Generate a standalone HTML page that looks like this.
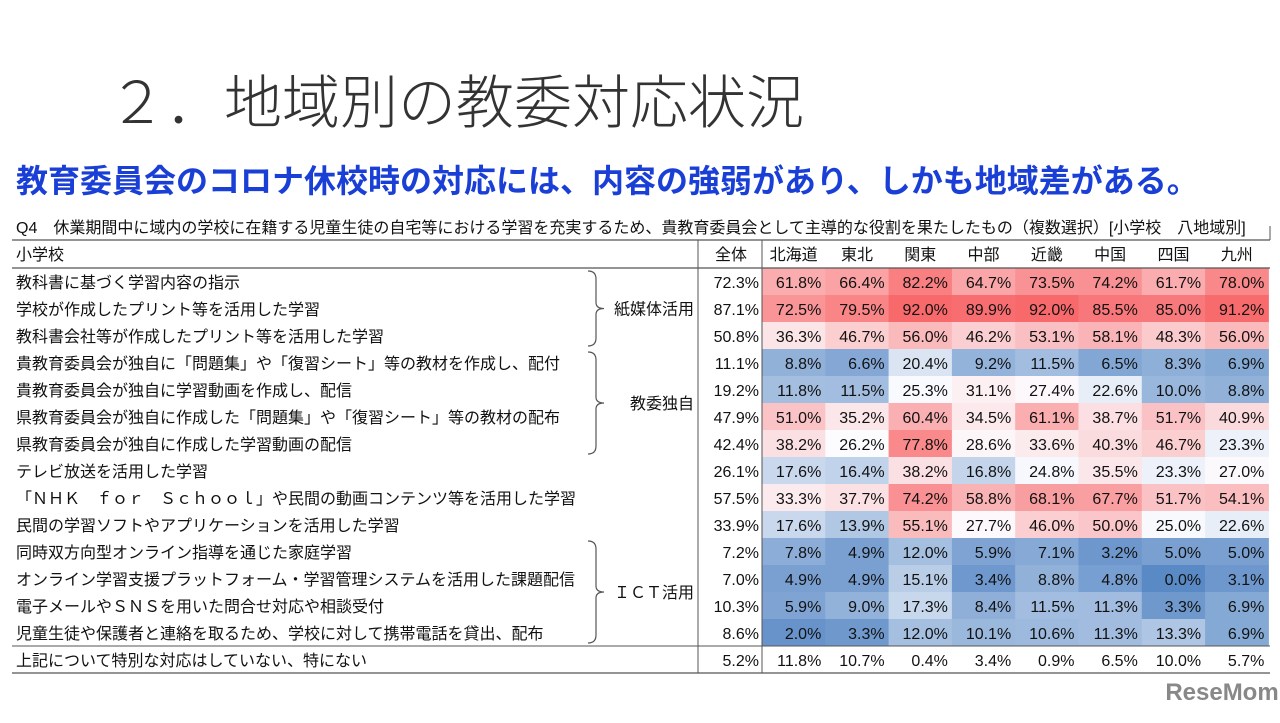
<!DOCTYPE html>
<html><head><meta charset="utf-8">
<style>
body{margin:0;background:#fff;width:1280px;height:718px;overflow:hidden;font-family:"Liberation Sans","Noto Sans CJK JP",sans-serif;}
svg text{font-family:"Liberation Sans","Noto Sans CJK JP",sans-serif;}
</style></head>
<body>
<svg id="s" width="1280" height="718" xmlns="http://www.w3.org/2000/svg">
<text x="108" y="123" font-size="58" fill="#333" style="font-family:'Noto Sans CJK JP',sans-serif;font-weight:300">２．地域別の教委対応状況</text>
<text x="16" y="192" font-size="32" font-weight="bold" fill="#1a3fd6">教育委員会のコロナ休校時の対応には、内容の強弱があり、しかも地域差がある。</text>
<text x="16" y="233" font-size="16" fill="#111">Q4　休業期間中に域内の学校に在籍する児童生徒の自宅等における学習を充実するため、貴教育委員会として主導的な役割を果たしたもの（複数選択）[小学校　八地域別]</text>
<g id="tbl"></g>
<text x="1222" y="700" font-size="24" font-weight="bold" fill="#888" text-anchor="middle">ReseMom</text>
</svg>
<script>
const regions=["北海道","東北","関東","中部","近畿","中国","四国","九州"];
const items=["教科書に基づく学習内容の指示","学校が作成したプリント等を活用した学習","教科書会社等が作成したプリント等を活用した学習","貴教育委員会が独自に「問題集」や「復習シート」等の教材を作成し、配付","貴教育委員会が独自に学習動画を作成し、配信","県教育委員会が独自に作成した「問題集」や「復習シート」等の教材の配布","県教育委員会が独自に作成した学習動画の配信","テレビ放送を活用した学習","「ＮＨＫ　ｆｏｒ　Ｓｃｈｏｏｌ」や民間の動画コンテンツ等を活用した学習","民間の学習ソフトやアプリケーションを活用した学習","同時双方向型オンライン指導を通じた家庭学習","オンライン学習支援プラットフォーム・学習管理システムを活用した課題配信","電子メールやＳＮＳを用いた問合せ対応や相談受付","児童生徒や保護者と連絡を取るため、学校に対して携帯電話を貸出、配布"];
const totals=[72.3,87.1,50.8,11.1,19.2,47.9,42.4,26.1,57.5,33.9,7.2,7.0,10.3,8.6];
const values=[
[61.8,66.4,82.2,64.7,73.5,74.2,61.7,78.0],
[72.5,79.5,92.0,89.9,92.0,85.5,85.0,91.2],
[36.3,46.7,56.0,46.2,53.1,58.1,48.3,56.0],
[8.8,6.6,20.4,9.2,11.5,6.5,8.3,6.9],
[11.8,11.5,25.3,31.1,27.4,22.6,10.0,8.8],
[51.0,35.2,60.4,34.5,61.1,38.7,51.7,40.9],
[38.2,26.2,77.8,28.6,33.6,40.3,46.7,23.3],
[17.6,16.4,38.2,16.8,24.8,35.5,23.3,27.0],
[33.3,37.7,74.2,58.8,68.1,67.7,51.7,54.1],
[17.6,13.9,55.1,27.7,46.0,50.0,25.0,22.6],
[7.8,4.9,12.0,5.9,7.1,3.2,5.0,5.0],
[4.9,4.9,15.1,3.4,8.8,4.8,0.0,3.1],
[5.9,9.0,17.3,8.4,11.5,11.3,3.3,6.9],
[2.0,3.3,12.0,10.1,10.6,11.3,13.3,6.9]];
const noneLabel="上記について特別な対応はしていない、特にない";
const noneTotal=5.2;
const noneValues=[11.8,10.7,0.4,3.4,0.9,6.5,10.0,5.7];
const groups=[["紙媒体活用",0,2],["教委独自",3,6],["ＩＣＴ活用",10,13]];

const NS="http://www.w3.org/2000/svg";
const g=document.getElementById('tbl');
function el(t,a,txt){const e=document.createElementNS(NS,t);for(const k in a)e.setAttribute(k,a[k]);if(txt!==undefined)e.textContent=txt;g.appendChild(e);return e;}
const top0=240,rowH=27,y0=268;
const xTot0=698,xHeat0=762,cw=63.3;
const FS=16,VS=16;
const xCol=i=>xHeat0+i*cw;
const yRow=i=>y0+i*rowH;
const all=values.flat().slice().sort((a,b)=>a-b);
const mn=all[0],mx=all[all.length-1];
const md=(all[all.length/2-1]+all[all.length/2])/2;
const lo=[90,138,198],mid=[252,252,255],hi=[248,105,107];
function mix(a,b,t){return 'rgb('+a.map((v,i)=>Math.round(v+(b[i]-v)*t)).join(',')+')';}
function color(v){return v<=md?mix(lo,mid,(v-mn)/(md-mn)):mix(mid,hi,(v-md)/(mx-md));}
let e;
e=el('text',{x:16,y:top0+20,'font-size':FS,fill:'#111'},'小学校');

e=el('text',{x:xTot0+33,y:top0+20,'font-size':FS,fill:'#111','text-anchor':'middle'},'全体');

regions.forEach((r,i)=>{
 const t=el('text',{x:xCol(i)+cw/2,y:top0+20,'font-size':FS,fill:'#111','text-anchor':'middle'},r);
 
 
});
values.forEach((row,ri)=>{
 const lt=el('text',{x:16,y:yRow(ri)+20,'font-size':FS,fill:'#111'},items[ri]);
 
 
 const tt=el('text',{x:xTot0+61,y:yRow(ri)+20,'font-size':VS,fill:'#111','text-anchor':'end'},totals[ri].toFixed(1)+'%');
 
 
 row.forEach((v,ci)=>{
  const r=el('rect',{x:xCol(ci),y:yRow(ri),width:cw+0.5,height:rowH+0.5,fill:color(v)});
  
  
  const t=el('text',{x:xCol(ci)+cw-4,y:yRow(ri)+20,'font-size':VS,fill:'#111','text-anchor':'end'},v.toFixed(1)+'%');
  
  
 });
});
const ny=yRow(values.length);
e=el('text',{x:16,y:ny+20,'font-size':FS,fill:'#111'},noneLabel);

e=el('text',{x:xTot0+61,y:ny+20,'font-size':VS,fill:'#111','text-anchor':'end'},noneTotal.toFixed(1)+'%');

noneValues.forEach((v,ci)=>{
 const t=el('text',{x:xCol(ci)+cw-4,y:ny+20,'font-size':VS,fill:'#111','text-anchor':'end'},v.toFixed(1)+'%');
 
 
});
groups.forEach(([name,a,b])=>{
 const ya=yRow(a)+3,yb=yRow(b+1)-3,ym=(ya+yb)/2,x=588;
 const p=el('path',{d:`M${x} ${ya} Q${x+8} ${ya} ${x+8} ${ya+8} L${x+8} ${ym-6} Q${x+8} ${ym} ${x+16} ${ym} Q${x+8} ${ym} ${x+8} ${ym+6} L${x+8} ${yb-8} Q${x+8} ${yb} ${x} ${yb}`,fill:'none',stroke:'#555','stroke-width':1.2});
 
 
 const t=el('text',{x:694,y:ym+6,'font-size':FS,fill:'#111','text-anchor':'end'},name);
 
 
});
const L=(x1,y1,x2,y2,w)=>{const l=el('line',{x1,y1,x2,y2,stroke:'#555','stroke-width':w||1});};
L(12,top0,1270,top0,1.2);L(12,y0,1270,y0,1.2);L(12,ny,1270,ny,1);L(12,ny+rowH,1270,ny+rowH,1.2);
L(xTot0,top0,xTot0,ny+rowH,1);L(xHeat0,top0,xHeat0,ny+rowH,1);L(1270,top0,1270,top0-14,1);
</script>
</body></html>
